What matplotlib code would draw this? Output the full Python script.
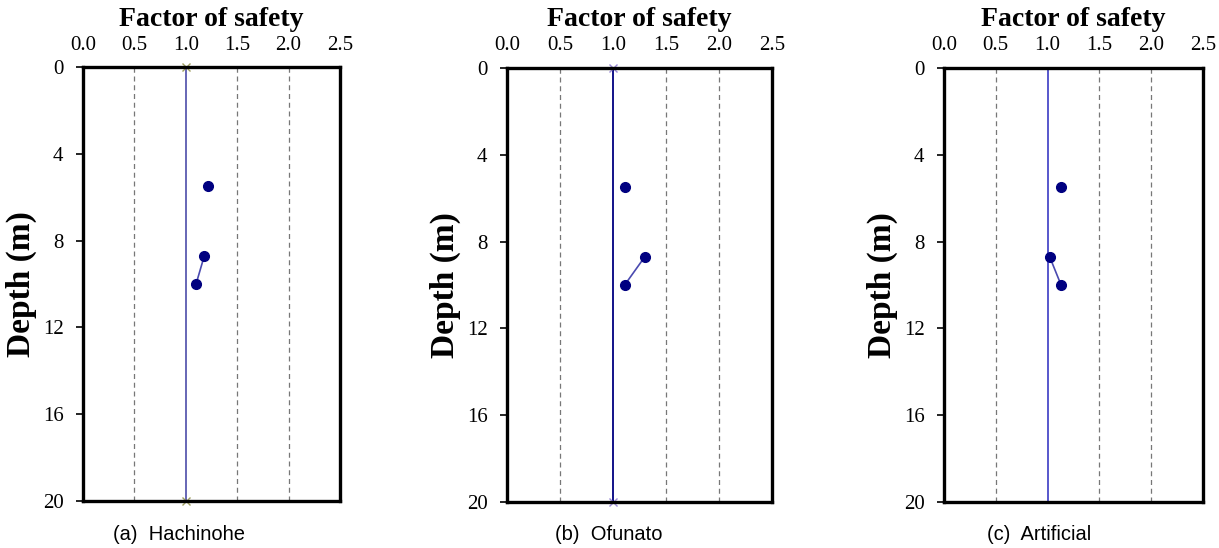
import matplotlib
matplotlib.use("Agg")
import matplotlib.pyplot as plt

# factor of safety at each depth
depth = [5.5, 8.7, 10.0]
fs_hachinohe = [1.22, 1.18, 1.10]
fs_ofunato = [1.11, 1.30, 1.11]
fs_artificial = [1.13, 1.02, 1.13]
captions = ["(a)  Hachinohe", "(b)  Ofunato", "(c)  Artificial"]
ref_fs = [1.0, 1.0]
ref_depth = [0, 20]
xticks = [0.0, 0.5, 1.0, 1.5, 2.0, 2.5]
yticks = [0, 4, 8, 12, 16, 20]

SERIF = ["Liberation Serif", "DejaVu Serif"]

fig = plt.figure(figsize=(12.19, 5.48), dpi=100)
W, H = 1219, 548
# pixel boxes (left, top, right, bottom)
boxes = [(83, 67, 340, 501), (507, 68, 772, 502), (944, 68, 1203, 502)]
cap_x = [113, 555, 987]
# reference line style per panel: colour, end marker, marker colour
ref_style = [("#5a5ab0", "x", "#a0a060"), ("#000080", "x", "#9a8ad8"), ("#4a4ac8", None, None)]

for i, fs in enumerate([fs_hachinohe, fs_ofunato, fs_artificial]):
    l, t, r, b = boxes[i]
    ax = fig.add_axes([l / W, 1 - b / H, (r - l) / W, (b - t) / H])
    ax.set_xlim(0, 2.5)
    ax.set_ylim(20, 0)
    for g in [0.5, 1.5, 2.0]:
        ax.axvline(g, color="#777777", lw=0.9, ls=(0, (4, 3)), zorder=1)
    lc, mk, mc = ref_style[i]
    ax.plot(ref_fs, ref_depth, color=lc, lw=1.3, zorder=2, clip_on=False)
    if mk:
        ax.plot(ref_fs, ref_depth, ls="none", marker=mk, ms=6, mew=1.0,
                color=mc, zorder=5, clip_on=False)
    ax.plot(fs[1:], depth[1:], color="#4a4ab0", lw=1.2, zorder=3)
    ax.plot(fs, depth, ls="none", marker="o", ms=7, color="#000080", zorder=4)

    ax.xaxis.tick_top()
    ax.set_xticks(xticks)
    ax.set_xticklabels([f"{v:.1f}" for v in xticks], fontfamily=SERIF, fontsize=15)
    ax.tick_params(axis="x", length=0, pad=9)
    ax.set_yticks(yticks)
    ax.set_yticklabels([str(v) for v in yticks], fontfamily=SERIF, fontsize=15)
    ax.tick_params(axis="y", direction="out", length=5, width=1.2, pad=9)
    for s in ax.spines.values():
        s.set_linewidth(2.4)
        s.set_zorder(6)

    ax.text(0.5, 1.0 + (t - 19) / (b - t), "Factor of safety", transform=ax.transAxes,
            ha="center", va="center", fontfamily=SERIF, fontweight="bold", fontsize=20)
    ax.text(-62 / (r - l), 0.5, "Depth (m)", transform=ax.transAxes,
            rotation=90, ha="center", va="center",
            fontfamily=SERIF, fontweight="bold", fontsize=24)

    fig.text(cap_x[i] / W, 1 - 535 / H, captions[i], ha="left", va="center",
             fontfamily=["Liberation Sans", "DejaVu Sans"], fontsize=14.5)

fig.savefig("out.png", dpi=100)
